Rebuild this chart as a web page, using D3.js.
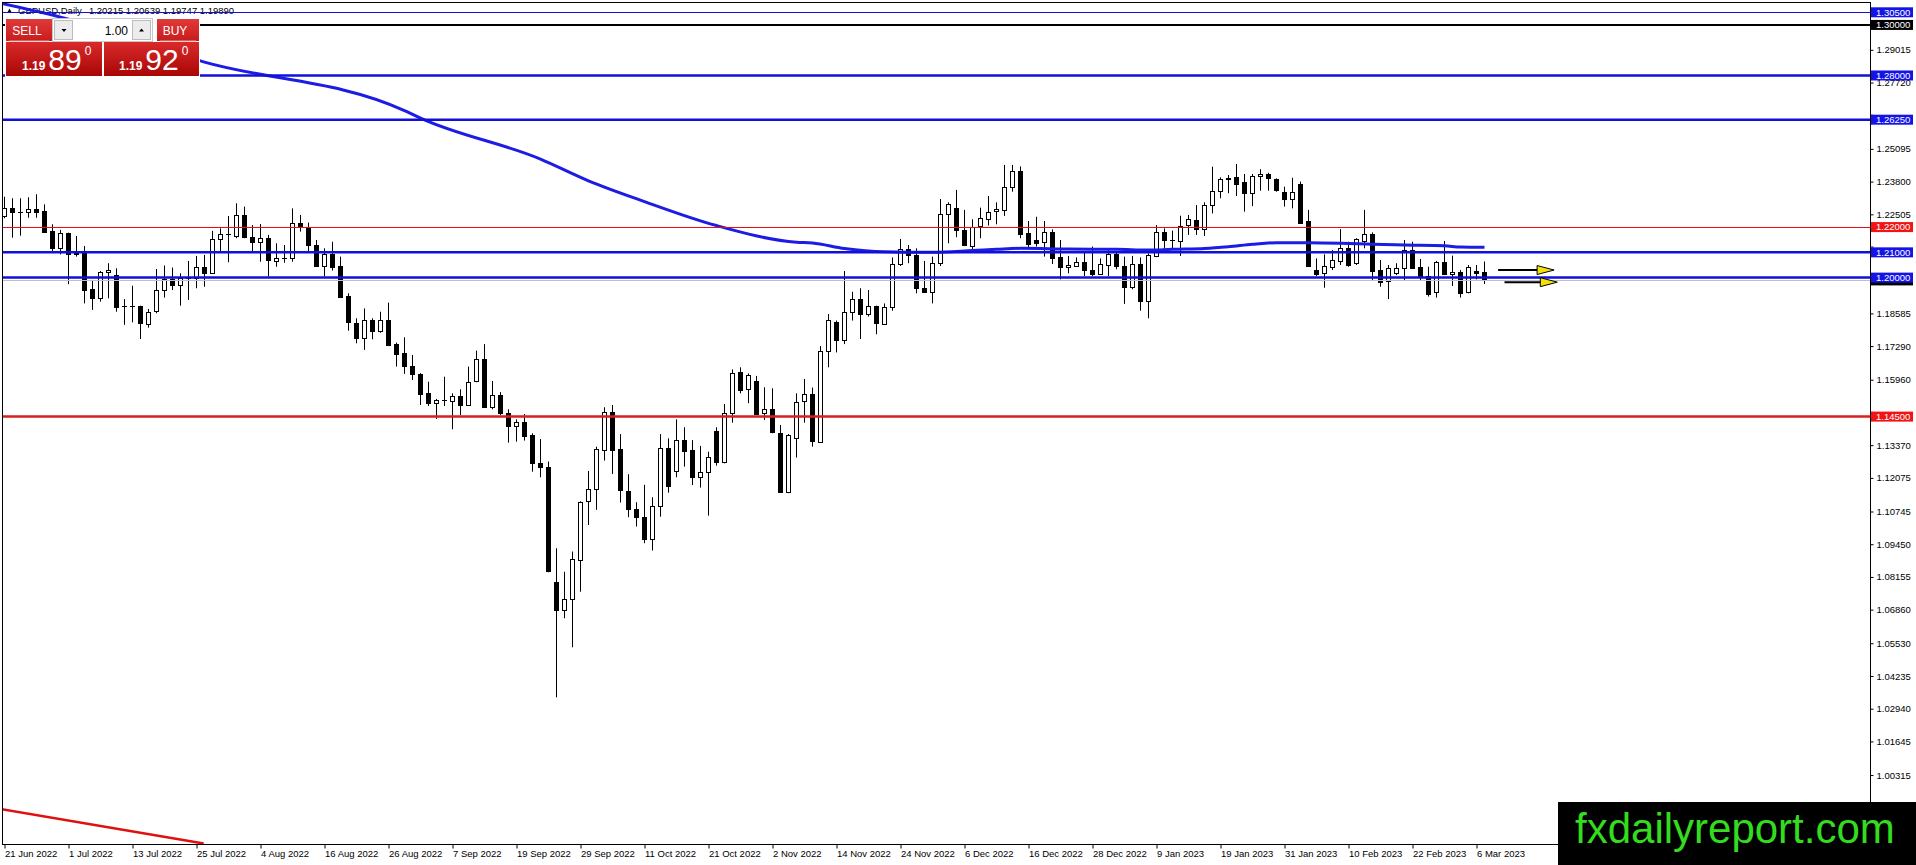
<!DOCTYPE html>
<html>
<head>
<meta charset="utf-8">
<script src="https://cdn.jsdelivr.net/npm/d3@7"></script>
<style>
body { margin: 0; background: #fff; overflow: hidden; }
svg { display: block; font-family: "Liberation Sans", Arial, sans-serif; }
</style>
</head>
<body>
<svg id="chart" width="1916" height="865"></svg>
<script>
// GBPUSD daily bars, 21 Jun 2022 .. 7 Mar 2023
var opens = [
  1.2241,1.2274,1.2258,1.2258,1.2272,1.2264,1.2185,1.2116,1.2175,1.2099,
  1.2099,1.1954,1.1918,1.2021,1.2011,1.1886,1.1884,1.1888,1.1819,1.1865,
  1.1950,1.1993,1.1968,1.1997,1.1997,1.2042,1.2020,1.2152,1.2171,1.2166,
  1.2248,1.2162,1.2142,1.2156,1.2063,1.2076,1.2076,1.2215,1.2198,1.2129,
  1.2047,1.2094,1.2046,1.1927,1.1819,1.1760,1.1832,1.1790,1.1832,1.1737,
  1.1700,1.1650,1.1619,1.1545,1.1503,1.1516,1.1513,1.1532,1.1496,1.1588,
  1.1677,1.1487,1.1536,1.1463,1.1413,1.1430,1.1377,1.1265,1.1249,1.0794,
  1.0682,1.0727,1.0885,1.1113,1.1162,1.1321,1.1470,1.1321,1.1157,1.1083,
  1.1052,1.0964,1.1096,1.1325,1.1236,1.1357,1.1318,1.1212,1.1232,1.1393,
  1.1272,1.1466,1.1625,1.1558,1.1591,1.1463,1.1479,1.1387,1.1153,1.1368,
  1.1509,1.1538,1.1351,1.1711,1.1823,1.1751,1.1863,1.1914,1.1856,1.1888,
  1.1819,1.1882,1.2053,1.2112,1.2090,1.1960,1.1944,1.2057,1.2252,1.2274,
  1.2188,1.2127,1.2202,1.2235,1.2261,1.2270,1.2360,1.2423,1.2175,1.2149,
  1.2142,1.2181,1.2080,1.2041,1.2047,1.2061,1.2030,1.2013,1.2050,1.2092,
  1.2046,1.1962,1.2053,1.1905,1.2083,1.2179,1.2147,1.2146,1.2206,1.2228,
  1.2191,1.2287,1.2343,1.2389,1.2400,1.2377,1.2334,1.2402,1.2410,1.2389,
  1.2340,1.2314,1.2372,1.2224,1.2030,1.2017,1.2043,1.2066,1.2119,1.2057,
  1.2142,1.2171,1.2030,1.1984,1.2021,1.2037,1.2109,1.2041,1.2006,1.1942,
  1.2061,1.2016,1.2024,1.1942,1.2028,1.20215
];
var highs = [
  1.2320,1.2314,1.2314,1.2318,1.2330,1.2290,1.2211,1.2189,1.2178,1.2165,
  1.2125,1.1991,1.2026,1.2057,1.2037,1.1915,1.1968,1.1889,1.1876,1.2034,
  1.2048,1.2040,1.2017,1.2066,1.2086,1.2090,1.2185,1.2195,1.2244,1.2294,
  1.2281,1.2208,1.2212,1.2169,1.2136,1.2129,1.2274,1.2248,1.2218,1.2149,
  1.2116,1.2142,1.2083,1.1938,1.1839,1.1878,1.1839,1.1865,1.1901,1.1743,
  1.1764,1.1694,1.1622,1.1588,1.1520,1.1608,1.1542,1.1558,1.1648,1.1711,
  1.1737,1.1591,1.1547,1.1479,1.1439,1.1460,1.1384,1.1361,1.1272,1.0929,
  1.0836,1.0916,1.1115,1.1235,1.1331,1.1487,1.1496,1.1381,1.1222,1.1111,
  1.1180,1.1131,1.1381,1.1364,1.1439,1.1408,1.1357,1.1334,1.1311,1.1408,
  1.1500,1.1637,1.1645,1.1621,1.1611,1.1566,1.1562,1.1417,1.1381,1.1542,
  1.1599,1.1565,1.1729,1.1856,1.1830,1.2026,1.1944,1.1958,1.1951,1.1889,
  1.1898,1.2080,1.2153,1.2129,1.2116,1.2066,1.2083,1.2311,1.2298,1.2347,
  1.2268,1.2231,1.2277,1.2323,1.2298,1.2446,1.2446,1.2440,1.2224,1.2241,
  1.2224,1.2191,1.2149,1.2086,1.2080,1.2099,1.2123,1.2076,1.2116,1.2099,
  1.2083,1.2086,1.2080,1.2096,1.2208,1.2195,1.2186,1.2245,1.2248,1.2287,
  1.2298,1.2439,1.2397,1.2406,1.2450,1.2410,1.2410,1.2429,1.2415,1.2393,
  1.2360,1.2395,1.2380,1.2268,1.2076,1.2092,1.2109,1.2192,1.2142,1.2156,
  1.2268,1.2179,1.2070,1.2050,1.2057,1.2149,1.2142,1.2074,1.2043,1.2066,
  1.2145,1.2087,1.2030,1.2050,1.2050,1.20639
];
var lows = [
  1.2235,1.2158,1.2166,1.2237,1.2237,1.2178,1.2105,1.2092,1.1974,1.2083,
  1.1898,1.1872,1.1905,1.1918,1.1865,1.1813,1.1823,1.1757,1.1802,1.1859,
  1.1921,1.1951,1.1889,1.1912,1.1958,1.1964,1.2017,1.2103,1.2061,1.2156,
  1.2156,1.2105,1.2063,1.2004,1.2043,1.2059,1.2063,1.2182,1.2105,1.2045,
  1.2004,1.2028,1.1921,1.1790,1.1740,1.1714,1.1756,1.1782,1.1729,1.1648,
  1.1619,1.1595,1.1496,1.1492,1.1441,1.1492,1.1400,1.1456,1.1492,1.1586,
  1.1485,1.1479,1.1456,1.1347,1.1351,1.1355,1.1232,1.1210,1.0834,1.0339,
  1.0652,1.0537,1.0757,1.1021,1.1081,1.1276,1.1223,1.1110,1.1052,1.1015,
  1.0949,1.0920,1.1054,1.1149,1.1210,1.1252,1.1179,1.1169,1.1058,1.1256,
  1.1265,1.1426,1.1542,1.1503,1.1456,1.1437,1.1384,1.1150,1.1147,1.1288,
  1.1426,1.1331,1.1349,1.1645,1.1704,1.1737,1.1830,1.1757,1.1846,1.1776,
  1.1817,1.1869,1.2046,1.2057,1.1938,1.1942,1.1898,1.2046,1.2136,1.2160,
  1.2125,1.2112,1.2156,1.2206,1.2211,1.2244,1.2340,1.2156,1.2120,1.2123,
  1.2083,1.2054,1.1993,1.2017,1.2043,1.2006,1.2006,1.2010,1.2006,1.2033,
  1.1896,1.1954,1.1869,1.1839,1.2081,1.2112,1.2112,1.2086,1.2169,1.2169,
  1.2165,1.2254,1.2314,1.2334,1.2323,1.2261,1.2283,1.2344,1.2344,1.2340,
  1.2281,1.2274,1.2216,1.2043,1.2006,1.1960,1.2030,1.2050,1.2043,1.2050,
  1.2116,1.1991,1.1964,1.1915,1.2010,1.1987,1.2037,1.1987,1.1925,1.1921,
  1.2010,1.1967,1.1921,1.1938,1.1993,1.19747
];
var closes = [
  1.2274,1.2258,1.2257,1.2270,1.2262,1.2182,1.2116,1.2175,1.2092,1.2095,
  1.1954,1.1918,1.2021,1.2029,1.1885,1.1884,1.1887,1.1819,1.1865,1.1950,
  1.1993,1.1968,1.1997,1.1996,1.2042,1.2020,1.2153,1.2171,1.2172,1.2248,
  1.2162,1.2142,1.2156,1.2067,1.2076,1.2077,1.2215,1.2202,1.2132,1.2047,
  1.2094,1.2043,1.1925,1.1826,1.1760,1.1832,1.1790,1.1832,1.1733,1.1698,
  1.1648,1.1619,1.1540,1.1505,1.1516,1.1517,1.1532,1.1496,1.1586,1.1677,
  1.1487,1.1536,1.1463,1.1413,1.1430,1.1373,1.1265,1.1248,1.0836,1.0682,
  1.0727,1.0885,1.1113,1.1162,1.1321,1.1470,1.1321,1.1157,1.1087,1.1052,
  1.0964,1.1096,1.1325,1.1173,1.1357,1.1315,1.1212,1.1232,1.1291,1.1272,
  1.1466,1.1624,1.1555,1.1615,1.1460,1.1479,1.1387,1.1153,1.1377,1.1509,
  1.1538,1.1351,1.1711,1.1832,1.1751,1.1863,1.1914,1.1856,1.1888,1.1819,
  1.1885,1.2053,1.2112,1.2087,1.1958,1.1944,1.2057,1.2252,1.2291,1.2186,
  1.2127,1.2202,1.2235,1.2261,1.2270,1.2360,1.2423,1.2175,1.2133,1.2138,
  1.2181,1.2080,1.2041,1.2050,1.2061,1.2028,1.2014,1.2053,1.2092,1.2043,
  1.1962,1.2053,1.1905,1.2088,1.2179,1.2146,1.2146,1.2206,1.2231,1.2191,
  1.2287,1.2343,1.2389,1.2393,1.2373,1.2334,1.2402,1.2410,1.2393,1.2347,
  1.2314,1.2340,1.2218,1.2046,1.2013,1.2046,1.2070,1.2119,1.2050,1.2153,
  1.2171,1.2026,1.1984,1.2037,1.2039,1.2109,1.2039,1.2006,1.1935,1.2061,
  1.2014,1.2024,1.1942,1.2041,1.2020,1.19890
];

// moving average, read at a few bars
var maBars = [-0.5, 7, 25, 50, 52, 67, 73, 80, 89, 99, 101, 105, 110, 116, 121, 124, 127,
  133, 139, 143, 146, 150, 153, 156, 159, 163, 167, 171, 175, 180, 182, 185];
var maValues = [1.3086, 1.3031, 1.2853, 1.2661, 1.2631, 1.2469, 1.2383, 1.2301, 1.2206, 1.2140,
  1.2137, 1.2115, 1.2102, 1.2100, 1.2107, 1.2112, 1.2116, 1.2113, 1.2112, 1.2109, 1.2112,
  1.2115, 1.2122, 1.2132, 1.2138, 1.2138, 1.2136, 1.2132, 1.2129, 1.2126, 1.2121, 1.2120];

var dateBars = [0, 8, 16, 24, 32, 40, 48, 56, 64, 72, 80, 88, 96, 104, 112, 120, 128, 136, 144, 152, 160, 168, 176, 184];
var dateLabels = ["21 Jun 2022", "1 Jul 2022", "13 Jul 2022", "25 Jul 2022", "4 Aug 2022", "16 Aug 2022",
  "26 Aug 2022", "7 Sep 2022", "19 Sep 2022", "29 Sep 2022", "11 Oct 2022", "21 Oct 2022", "2 Nov 2022",
  "14 Nov 2022", "24 Nov 2022", "6 Dec 2022", "16 Dec 2022", "28 Dec 2022", "9 Jan 2023", "19 Jan 2023",
  "31 Jan 2023", "10 Feb 2023", "22 Feb 2023", "6 Mar 2023"];

var priceTicks = [1.29015, 1.27720, 1.25095, 1.23800, 1.22505, 1.18585,
  1.17290, 1.15960, 1.13370, 1.12075, 1.10745, 1.09450, 1.08155, 1.06860, 1.05530,
  1.04235, 1.02940, 1.01645, 1.00315];
// ticks whose labels sit under the level boxes
var coveredTicks = [1.26425, 1.21210, 1.19880, 1.14665];

var levelPrices = [1.30500, 1.30000, 1.28000, 1.26250, 1.22000, 1.21000, 1.20000, 1.14500];
var bidPrice = 1.19890;

var trendBars = [-0.5, 24.9];
var trendPrices = [0.9897, 0.9761];

var arrowStartBars = [186.7, 187.5];
var arrowEndBars = [193.7, 194.1];
var arrowPrices = [1.2030, 1.1982];

var symbolTitle = "GBPUSD,Daily";
var titleOHLC = "1.20215 1.20639 1.19747 1.19890";

// ---- drawing ----
var svg = d3.select('#chart');
var plotL = 2.5, plotT = 2.5, plotR = 1870.5, plotB = 844.5;

var x = d3.scaleLinear().domain([0, 185]).range([4.5, 1484.5]);
var y = d3.scaleLinear().domain([1.305, 1.0]).range([12.3, 783.0]);

var levelColor = ["#1010d8", "#000000", "#1010d8", "#1010d8", "#e80e0e", "#1010d8", "#1010d8", "#d81e1e"];
var levelWidth = [1, 2, 2.5, 2.5, 1, 2.5, 2.5, 2.5];
var labelColor = ["#1414e6", "#000000", "#1414e6", "#1414e6", "#f01414", "#1414e6", "#1414e6", "#f01414"];

// thin lines snapped to the pixel grid
function lineY(p, w) {
  return w <= 1 ? Math.round(y(p)) + 0.5 : y(p);
}

svg.append('defs').append('clipPath').attr('id', 'plot')
  .append('rect').attr('x', plotL).attr('y', plotT)
  .attr('width', plotR - plotL).attr('height', plotB - plotT);

// title
svg.append('path').attr('d', 'M7,13 L9.5,8.5 L12,13 Z').attr('fill', '#000');
var title = svg.append('text').attr('x', 18).attr('y', 14)
  .attr('font-size', '9.5px').attr('fill', '#000').text(symbolTitle);
title.append('tspan').attr('dx', 7).text(titleOHLC);

var plot = svg.append('g').attr('clip-path', 'url(#plot)');

// candles
var bars = d3.range(opens.length).map(function(i) {
  return { i: i, o: opens[i], h: highs[i], l: lows[i], c: closes[i] };
});
var candle = plot.selectAll('g.candle').data(bars).enter().append('g').attr('class', 'candle');
candle.append('line')
  .attr('x1', function(d) { return x(d.i); })
  .attr('x2', function(d) { return x(d.i); })
  .attr('y1', function(d) { return y(d.h); })
  .attr('y2', function(d) { return y(d.l); })
  .attr('stroke', '#000').attr('stroke-width', 1);
candle.each(function(d) {
  var g = d3.select(this);
  var top = y(Math.max(d.o, d.c)), bot = y(Math.min(d.o, d.c));
  if (bot - top < 1) {
    g.append('line').attr('x1', x(d.i) - 2.5).attr('x2', x(d.i) + 2.5)
      .attr('y1', Math.round(top) + 0.5).attr('y2', Math.round(top) + 0.5)
      .attr('stroke', '#000').attr('stroke-width', 1);
  } else {
    g.append('rect')
      .attr('x', x(d.i) - 2).attr('width', 4)
      .attr('y', Math.round(top) + 0.5).attr('height', Math.max(1, Math.round(bot - top)))
      .attr('fill', d.c >= d.o ? '#fff' : '#000')
      .attr('stroke', '#000').attr('stroke-width', 1);
  }
});

// moving average
var maLine = d3.line()
  .x(function(d, k) { return x(maBars[k]); })
  .y(function(d) { return y(d); })
  .curve(d3.curveMonotoneX);
plot.append('path').attr('d', maLine(maValues))
  .attr('fill', 'none').attr('stroke', '#1c1ce4').attr('stroke-width', 3);

// horizontal levels
plot.append('line')
  .attr('x1', plotL).attr('x2', plotR)
  .attr('y1', lineY(bidPrice, 1)).attr('y2', lineY(bidPrice, 1))
  .attr('stroke', '#c0c0c0').attr('stroke-width', 1);
plot.selectAll('line.level').data(levelPrices).enter().append('line')
  .attr('class', 'level')
  .attr('x1', plotL).attr('x2', plotR)
  .attr('y1', function(d, k) { return lineY(d, levelWidth[k]); })
  .attr('y2', function(d, k) { return lineY(d, levelWidth[k]); })
  .attr('stroke', function(d, k) { return levelColor[k]; })
  .attr('stroke-width', function(d, k) { return levelWidth[k]; });

// red trend line bottom left
plot.append('line')
  .attr('x1', x(trendBars[0])).attr('y1', y(trendPrices[0]))
  .attr('x2', x(trendBars[1])).attr('y2', y(trendPrices[1]))
  .attr('stroke', '#e01010').attr('stroke-width', 2.5);

// arrows
arrowPrices.forEach(function(p, k) {
  var x0 = x(arrowStartBars[k]), x1 = x(arrowEndBars[k]), yy = y(p);
  var tip = x1 - 17;
  plot.append('line').attr('x1', x0).attr('x2', tip).attr('y1', yy).attr('y2', yy)
    .attr('stroke', '#000').attr('stroke-width', 2);
  plot.append('path')
    .attr('d', 'M' + tip + ',' + (yy - 4.5) + ' L' + x1 + ',' + yy + ' L' + tip + ',' + (yy + 4.5) + ' Z')
    .attr('fill', '#f5e10a').attr('stroke', '#000').attr('stroke-width', 1);
});

// frame
svg.append('rect').attr('x', plotL).attr('y', plotT)
  .attr('width', plotR - plotL).attr('height', plotB - plotT)
  .attr('fill', 'none').attr('stroke', '#000').attr('stroke-width', 1);

// price axis
var yAxis = d3.axisRight(y).tickValues(priceTicks).tickSize(3).tickPadding(3)
  .tickFormat(d3.format('.5f'));
var ya = svg.append('g').attr('transform', 'translate(' + plotR + ',0)').call(yAxis);
ya.select('.domain').remove();
ya.selectAll('text').attr('font-size', '9.5px').attr('font-family', '"Liberation Sans", Arial, sans-serif');
ya.selectAll('line.covered').data(coveredTicks).enter().append('line')
  .attr('class', 'covered')
  .attr('x1', 0).attr('x2', 3)
  .attr('y1', function(d) { return y(d); })
  .attr('y2', function(d) { return y(d); })
  .attr('stroke', '#000');

// date axis
var xAxis = d3.axisBottom(x).tickValues(dateBars).tickSize(4)
  .tickFormat(function(d, k) { return dateLabels[k]; });
var xa = svg.append('g').attr('transform', 'translate(0,' + plotB + ')').call(xAxis);
xa.select('.domain').remove();
xa.selectAll('text').attr('text-anchor', 'start').attr('x', 0).attr('y', 6)
  .attr('font-size', '9.5px').attr('font-family', '"Liberation Sans", Arial, sans-serif');

// price labels on the axis
function priceBox(p, col) {
  return svg.append('rect').attr('x', 1871).attr('y', y(p) - 5)
    .attr('width', 42).attr('height', 10).attr('fill', col);
}
function priceLabel(p, col) {
  priceBox(p, col);
  svg.append('text').attr('x', 1876).attr('y', y(p)).attr('dy', '0.35em')
    .attr('font-size', '9.5px').attr('fill', '#fff').text(d3.format('.5f')(p));
}
priceBox(bidPrice, '#000');
levelPrices.forEach(function(p, k) { priceLabel(p, labelColor[k]); });

// one-click trading panel
var defs = svg.select('defs');
var grad = defs.append('linearGradient').attr('id', 'redg').attr('x1', 0).attr('y1', 0).attr('x2', 0).attr('y2', 1);
grad.append('stop').attr('offset', '0%').attr('stop-color', '#d92a2a');
grad.append('stop').attr('offset', '100%').attr('stop-color', '#a80606');
var grad2 = defs.append('linearGradient').attr('id', 'redb').attr('x1', 0).attr('y1', 0).attr('x2', 0).attr('y2', 1);
grad2.append('stop').attr('offset', '0%').attr('stop-color', '#e03a3a');
grad2.append('stop').attr('offset', '100%').attr('stop-color', '#c81c1c');

var panel = svg.append('g');
panel.append('rect').attr('x', 5).attr('y', 18).attr('width', 195).attr('height', 59).attr('fill', '#fff');
panel.append('rect').attr('x', 6).attr('y', 19).attr('width', 46).attr('height', 22).attr('fill', 'url(#redb)');
panel.append('rect').attr('x', 157).attr('y', 19).attr('width', 42).attr('height', 22).attr('fill', 'url(#redb)');
panel.append('line').attr('x1', 9).attr('x2', 49).attr('y1', 41).attr('y2', 41).attr('stroke', '#f0a0a0');
panel.append('line').attr('x1', 160).attr('x2', 196).attr('y1', 41).attr('y2', 41).attr('stroke', '#f0a0a0');
panel.append('text').attr('x', 27).attr('y', 35).attr('text-anchor', 'middle')
  .attr('font-size', '12px').attr('fill', '#fff').text('SELL');
panel.append('text').attr('x', 175).attr('y', 35).attr('text-anchor', 'middle')
  .attr('font-size', '12px').attr('fill', '#fff').text('BUY');
panel.append('rect').attr('x', 52.5).attr('y', 18.5).attr('width', 100).attr('height', 23)
  .attr('fill', '#fff').attr('stroke', '#c8c8c8');
panel.append('rect').attr('x', 54.5).attr('y', 20.5).attr('width', 18).attr('height', 19)
  .attr('fill', '#ececec').attr('stroke', '#bcbcbc');
panel.append('rect').attr('x', 132.5).attr('y', 20.5).attr('width', 18).attr('height', 19)
  .attr('fill', '#ececec').attr('stroke', '#bcbcbc');
panel.append('path').attr('d', 'M61.5,29 L66.5,29 L64,32 Z').attr('fill', '#000');
panel.append('path').attr('d', 'M139,31.5 L144,31.5 L141.5,28.5 Z').attr('fill', '#000');
panel.append('text').attr('x', 128).attr('y', 34.5).attr('text-anchor', 'end')
  .attr('font-size', '12px').attr('fill', '#000').text('1.00');
panel.append('rect').attr('x', 6).attr('y', 42).attr('width', 96).attr('height', 34).attr('fill', 'url(#redg)');
panel.append('rect').attr('x', 104).attr('y', 42).attr('width', 95).attr('height', 34).attr('fill', 'url(#redg)');
[[22, '1.19', '89'], [119, '1.19', '92']].forEach(function(q) {
  var t = panel.append('text').attr('x', q[0]).attr('y', 70).attr('fill', '#fff');
  t.append('tspan').attr('font-size', '12px').attr('font-weight', 'bold').text(q[1]);
  t.append('tspan').attr('dx', 3).attr('font-size', '30px').text(q[2]);
  t.append('tspan').attr('dx', 3).attr('dy', -15).attr('font-size', '12px').text('0');
});

// watermark
svg.append('rect').attr('x', 1558).attr('y', 802).attr('width', 358).attr('height', 63).attr('fill', '#000');
svg.append('text').attr('x', 1575).attr('y', 843).attr('font-size', '42px')
  .attr('fill', '#33dc1e').text('fxdailyreport.com');
</script>
</body>
</html>
